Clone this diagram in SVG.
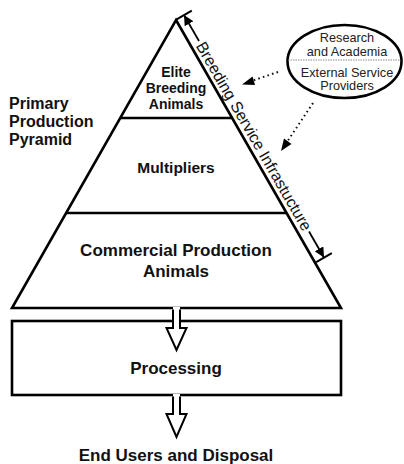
<svg xmlns="http://www.w3.org/2000/svg" width="404" height="464" viewBox="0 0 404 464">
<style>
.b{font-family:"Liberation Sans",Arial,sans-serif;font-weight:bold;fill:#111;text-anchor:middle}
.r{font-family:"Liberation Sans",Arial,sans-serif;fill:#222;text-anchor:middle}
.ln{stroke:#000;stroke-width:2.6;fill:none}
.dot{stroke:#111;stroke-width:2;stroke-dasharray:1.6 3.2;fill:none}
</style>
<defs>
<marker id="ah" viewBox="0 0 10 10" refX="9" refY="5" markerWidth="10" markerHeight="10" markerUnits="userSpaceOnUse" orient="auto">
<path d="M0,0 L10,5 L0,10 z" fill="#000"/>
</marker>
</defs>
<rect width="404" height="464" fill="#fff"/>
<g id="pyramid">
<polygon class="ln" points="176,20 341,308 12,308" stroke-linejoin="miter"/>
<line class="ln" x1="120" y1="118" x2="232" y2="118"/>
<line class="ln" x1="66" y1="213" x2="286" y2="213"/>
</g>
<g id="elite">
<text class="b" font-size="14" x="176" y="77">Elite</text>
<text class="b" font-size="14" x="176" y="93">Breeding</text>
<text class="b" font-size="14" x="176" y="109">Animals</text>
</g>
<g id="multipliers">
<text class="b" font-size="15.5" x="176" y="173">Multipliers</text>
</g>
<g id="commercial">
<text class="b" font-size="17" x="176" y="256">Commercial Production</text>
<text class="b" font-size="17" x="176" y="277">Animals</text>
</g>
<g id="title">
<text class="b" font-size="16" x="9" y="109" text-anchor="start" style="text-anchor:start">Primary</text>
<text class="b" font-size="16" x="9" y="127" style="text-anchor:start">Production</text>
<text class="b" font-size="16" x="9" y="145" style="text-anchor:start">Pyramid</text>
</g>
<g id="processing">
<rect class="ln" x="12" y="321" width="329" height="74"/>
<text class="b" font-size="17" x="176" y="374">Processing</text>
</g>
<g id="endusers">
<text class="b" font-size="17" x="176" y="461">End Users and Disposal</text>
</g>
<g id="external">
<ellipse class="ln" cx="344.5" cy="61.5" rx="57" ry="36.5"/>
<line x1="288" y1="60" x2="401" y2="60" stroke="#888" stroke-width="1" stroke-dasharray="1.5 1"/>
<text class="r" font-size="12.7" x="347" y="42">Research</text>
<text class="r" font-size="12.7" x="347" y="56">and Academia</text>
<text class="r" font-size="12.7" x="347" y="77">External Service</text>
<text class="r" font-size="12.7" x="347" y="90">Providers</text>
</g>
<g id="connectors">
<path d="M173,307 V328 H166.5 L176.5,350 L186.5,328 H180 V307" fill="#fff" stroke="none"/>
<path d="M173,309.5 V328 H166.5 L176.5,350 L186.5,328 H180 V309.5" fill="none" stroke="#000" stroke-width="2" stroke-linejoin="miter"/>
<path d="M173,394 V414 H166.5 L176.5,437 L186.5,414 H180 V394" fill="#fff" stroke="none"/>
<path d="M173,396.5 V414 H166.5 L176.5,437 L186.5,414 H180 V396.5" fill="none" stroke="#000" stroke-width="2" stroke-linejoin="miter"/>
<path class="dot" d="M278,72 L250,81.5"/>
<path d="M252.5,76.5 L242,84.5 L255,85 z" fill="#000"/>
<path class="dot" d="M313,103 L287,142"/>
<path d="M284,138.5 L281,151 L291.5,144 z" fill="#000"/>
<g transform="translate(254,136.3) rotate(60)">
<line x1="-140" y1="-9" x2="-140" y2="9" stroke="#000" stroke-width="2"/>
<line x1="140" y1="-9" x2="140" y2="9" stroke="#000" stroke-width="2"/>
<line x1="-110" y1="0" x2="-139" y2="0" stroke="#000" stroke-width="1.8" marker-end="url(#ah)"/>
<line x1="110" y1="0" x2="139" y2="0" stroke="#000" stroke-width="1.8" marker-end="url(#ah)"/>
<text font-family="Liberation Sans,Arial,sans-serif" font-size="16" fill="#111" text-anchor="middle" x="0" y="5.5">Breeding Service Infrastucture</text>
</g>
</g>
</svg>
